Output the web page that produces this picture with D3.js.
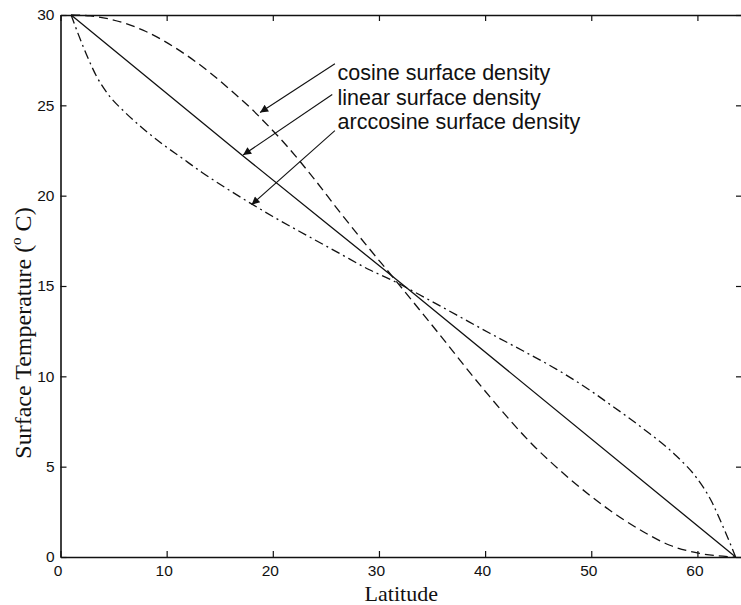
<!DOCTYPE html>
<html>
<head>
<meta charset="utf-8">
<script src="https://cdn.jsdelivr.net/npm/d3@7"></script>
<style>
  body { margin: 0; background: #fff; }
  .axis text { font-family: "Liberation Sans", Arial, sans-serif; font-size: 15.5px; fill: #111; }
  .axis path, .axis line { stroke: #111; }
</style>
</head>
<body>
<div id="chart"></div>
<script>
// values (latitude in degrees, temperature in deg C)
const linearLat = [1.0, 17.2, 32.4, 63.6];
const linearTemp = [30, 22.2, 15, 0];

const cosineLat = [1.0, 2.8, 4.8, 8.0, 11.3, 14.1, 16.1, 18.0, 19.1, 21.1, 23.8, 26.3, 28.9, 31.3,
    33.8, 36.0, 38.3, 40.4, 42.3, 44.5, 46.1, 49.9, 52.7, 54.9, 57.4, 60.2, 63.6];
const cosineTemp = [30.0, 29.95, 29.75, 29.1, 28.0, 26.8, 25.8, 24.8, 24.15, 22.9, 21.0, 19.1, 17.2, 15.5,
    13.7, 12.1, 10.4, 8.9, 7.6, 6.2, 5.3, 3.4, 2.2, 1.4, 0.65, 0.2, 0];

const arccosLat = [1.0, 1.7, 2.6, 3.4, 4.5, 6.1, 7.6, 9.5, 11.4, 13.3, 15.5, 17.7, 20.0, 23.2, 26.3,
    29.1, 31.3, 34.5, 37.3, 40.4, 43.6, 46.7, 50.2, 51.4, 54.9, 58.0, 59.9, 61.4, 62.1, 62.8, 63.6];
const arccosTemp = [30.0, 28.9, 27.6, 26.6, 25.6, 24.6, 23.8, 22.9, 22.1, 21.3, 20.45, 19.65, 18.85, 17.8, 16.8,
    15.9, 15.3, 14.3, 13.4, 12.4, 11.4, 10.4, 9.1, 8.6, 7.1, 5.6, 4.4, 3.0, 2.1, 1.15, 0];

const xTicks = [0, 10, 20, 30, 40, 50, 60];
const yTicks = [0, 5, 10, 15, 20, 25, 30];

const labels = ['cosine surface density', 'linear surface density', 'arccosine surface density'];
// arrow start / tip in data units
const arrowFrom = [[25.85, 27.3], [25.6, 25.6], [25.85, 23.6]];
const arrowTo = [[18.8, 24.6], [17.2, 22.25], [18.0, 19.5]];

const w = 741;
const h = 605;
const m = { left: 60.5, right: 742, top: 15, bottom: 557 };

const svg = d3.select('#chart')
    .append('svg')
    .attr('width', w)
    .attr('height', h);

svg.append('rect').attr('width', w).attr('height', h).attr('fill', '#fff');

const xScale = d3.scaleLinear().domain([0, 64.2]).range([m.left, m.right]);
const yScale = d3.scaleLinear().domain([0, 30]).range([m.bottom, m.top]);

svg.append('defs').append('marker')
    .attr('id', 'head')
    .attr('viewBox', '0 0 10 10')
    .attr('refX', 10).attr('refY', 5)
    .attr('markerWidth', 13).attr('markerHeight', 8)
    .attr('markerUnits', 'userSpaceOnUse')
    .attr('orient', 'auto')
    .append('path')
    .attr('d', 'M0,0 L10,5 L0,10 z')
    .attr('fill', '#111');

// axes, matlab style box with inward ticks
svg.append('g')
    .attr('class', 'axis')
    .attr('transform', `translate(0, ${m.bottom})`)
    .call(d3.axisBottom(xScale).tickValues(xTicks).tickSizeInner(-6).tickSizeOuter(0).tickPadding(8))
    .call(g => g.selectAll('text').attr('dx', -3));

svg.append('g')
    .attr('class', 'axis')
    .attr('transform', `translate(0, ${m.top})`)
    .call(d3.axisTop(xScale).tickValues(xTicks).tickSizeInner(-6).tickSizeOuter(0).tickFormat(''));

svg.append('g')
    .attr('class', 'axis')
    .attr('transform', `translate(${m.left}, 0)`)
    .call(d3.axisLeft(yScale).tickValues(yTicks).tickSizeInner(-6).tickSizeOuter(0).tickPadding(6));

svg.append('g')
    .attr('class', 'axis')
    .attr('transform', `translate(${m.right}, 0)`)
    .call(d3.axisRight(yScale).tickValues(yTicks).tickSizeInner(-6).tickSizeOuter(0).tickFormat(''));

svg.selectAll('.axis path').attr('stroke-width', 1.6);
svg.selectAll('.axis line').attr('stroke-width', 1.2);

// curves
const line = d3.line()
    .x(d => xScale(d[0]))
    .y(d => yScale(d[1]))
    .curve(d3.curveMonotoneX);

const series = [
    { lat: linearLat, temp: linearTemp, dash: null },
    { lat: cosineLat, temp: cosineTemp, dash: '9,5' },
    { lat: arccosLat, temp: arccosTemp, dash: '9,4,2,4' }
];

svg.selectAll('.curve')
    .data(series)
    .enter()
    .append('path')
    .attr('class', 'curve')
    .attr('d', s => line(s.lat.map((v, i) => [v, s.temp[i]])))
    .attr('fill', 'none')
    .attr('stroke', '#111')
    .attr('stroke-width', 1.3)
    .attr('stroke-dasharray', s => s.dash);

// annotations
svg.selectAll('.arrow')
    .data(arrowFrom)
    .enter()
    .append('line')
    .attr('class', 'arrow')
    .attr('x1', d => xScale(d[0]))
    .attr('y1', d => yScale(d[1]))
    .attr('x2', (d, i) => xScale(arrowTo[i][0]))
    .attr('y2', (d, i) => yScale(arrowTo[i][1]))
    .attr('stroke', '#111')
    .attr('stroke-width', 1.1)
    .attr('marker-end', 'url(#head)');

svg.selectAll('.note')
    .data(labels)
    .enter()
    .append('text')
    .attr('class', 'note')
    .attr('x', xScale(26.1))
    .attr('y', (d, i) => yScale(26.4) + i * 24.5)
    .attr('font-family', '"Liberation Sans", Arial, sans-serif')
    .attr('font-size', 21.5)
    .attr('fill', '#111')
    .text(d => d);

// axis titles
svg.append('text')
    .attr('x', (m.left + m.right) / 2)
    .attr('y', 601)
    .attr('text-anchor', 'middle')
    .attr('font-family', '"Liberation Serif", "Times New Roman", serif')
    .attr('font-size', 22)
    .attr('fill', '#111')
    .text('Latitude');

const yTitle = svg.append('text')
    .attr('transform', `translate(31, 333) rotate(-90)`)
    .attr('text-anchor', 'middle')
    .attr('font-family', '"Liberation Serif", "Times New Roman", serif')
    .attr('font-size', 24)
    .attr('fill', '#111');
yTitle.append('tspan').text('Surface Temperature (');
yTitle.append('tspan').attr('font-size', 15).attr('dy', -10).text('o');
yTitle.append('tspan').attr('dy', 10).text(' C)');
</script>
</body>
</html>
